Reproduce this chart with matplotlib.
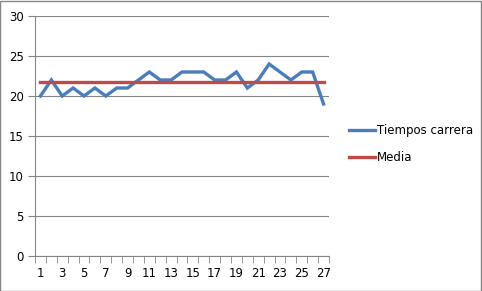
import matplotlib
matplotlib.use('Agg')
import matplotlib.pyplot as plt
from matplotlib.lines import Line2D
from matplotlib.patches import Rectangle

# datos
carrera = list(range(1, 28))
tiempos = [20, 22, 20, 21, 20, 21, 20, 21, 21, 22, 23, 22, 22, 23,
           23, 23, 22, 22, 23, 21, 22, 24, 23, 22, 23, 23, 19]
media = sum(tiempos) / len(tiempos)
medias = [media] * len(carrera)
yticks = [0, 5, 10, 15, 20, 25, 30]

W, H = 482, 291
fig = plt.figure(figsize=(W / 100, H / 100), dpi=100)
fig.patches.append(Rectangle((0.001, 0.001), 0.997, 0.996, transform=fig.transFigure,
                             fill=False, edgecolor='#868686', linewidth=1))

# area del grafico en pixeles
x0, x1 = 35, 329
y0, y1 = 256, 16
ax = fig.add_axes([x0 / W, 1 - y0 / H, (x1 - x0) / W, (y0 - y1) / H])

ax.plot(carrera, tiempos, color='#4A7EBB', linewidth=2.4, solid_joinstyle='miter',
        label='Tiempos carrera')
ax.plot(carrera, medias, color='#BE4B48', linewidth=2.4, label='Media')

ax.set_xlim(0.5, 27.5)
ax.set_ylim(0, 30)
ax.set_yticks(yticks)
ax.set_xticks(carrera[::2])
ax.set_xticks([c + 0.5 for c in range(0, 28)], minor=True)
ax.tick_params(axis='x', which='major', length=0, pad=8)
ax.tick_params(axis='x', which='minor', length=5, color='#868686')
ax.tick_params(axis='y', length=5, color='#868686', pad=3)
ax.tick_params(labelsize=8.5, labelcolor='#000000')

ax.grid(axis='y', color='#868686', linewidth=0.8)
ax.set_axisbelow(True)
for s in ['top', 'right']:
    ax.spines[s].set_visible(False)
for s in ['left', 'bottom']:
    ax.spines[s].set_color('#868686')
    ax.spines[s].set_linewidth(0.8)

handles = [Line2D([], [], color='#4A7EBB', linewidth=2.4),
           Line2D([], [], color='#BE4B48', linewidth=2.4)]
fig.legend(handles, ['Tiempos carrera', 'Media'], loc='upper left',
           bbox_to_anchor=(343 / W, 1 - 118 / H), frameon=False, fontsize=8.5,
           handlelength=2.2, handletextpad=0.2, labelspacing=1.2, borderpad=0)

fig.savefig('out.png', dpi=100)
